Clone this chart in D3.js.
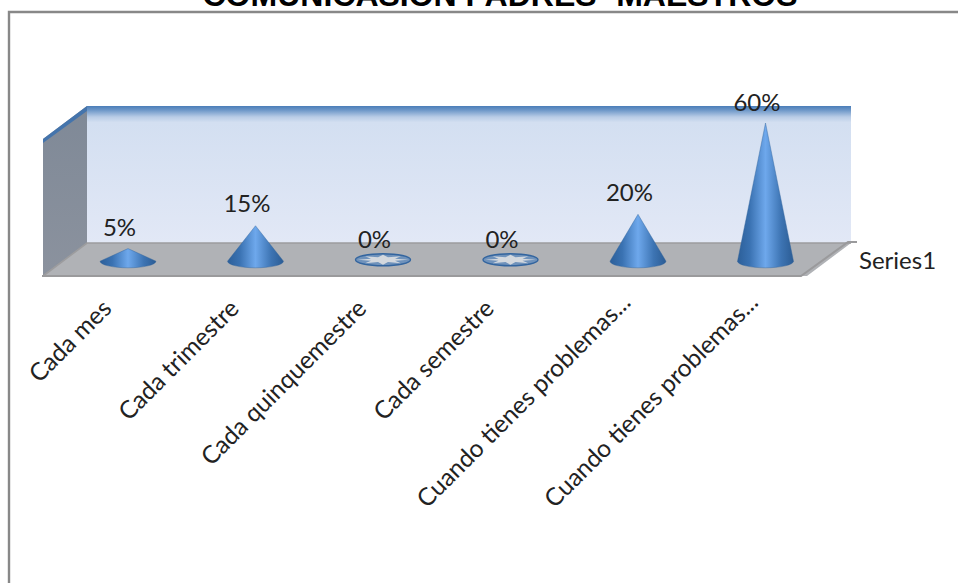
<!DOCTYPE html>
<html><head><meta charset="utf-8">
<script src="https://cdn.jsdelivr.net/npm/d3@7/dist/d3.min.js"></script>
<style>html,body{margin:0;padding:0;background:#fff;overflow:hidden}svg{display:block}</style>
</head><body><div id="c"></div>
<script>
const titleText = "COMUNICASION PADRES- MAESTROS";
const categories = ["Cada mes","Cada trimestre","Cada quinquemestre","Cada semestre","Cuando tienes problemas...","Cuando tienes problemas... "];
const values = [5,15,0,0,20,60];
const seriesName = "Series1";

const W=958,H=583;
const svg=d3.select("#c").append("svg").attr("width",W).attr("height",H);
const defs=svg.append("defs");
function lin(id,stops,x2,y2){const g=defs.append("linearGradient").attr("id",id).attr("x1",0).attr("y1",0).attr("x2",x2).attr("y2",y2);
 stops.forEach(s=>g.append("stop").attr("offset",s[0]).attr("stop-color",s[1]));}
lin("wall",[[0,"#4a7db8"],[0.03,"#6d97c8"],[0.08,"#b9cce6"],[0.12,"#d3dff1"],[1,"#e2e8f6"]],0,1);
lin("side",[[0,"#7f8997"],[1,"#8b929e"]],0,1);
lin("cone",[[0,"#2c5f99"],[0.22,"#3a72b2"],[0.5,"#6ea8ec"],[0.78,"#3d74b3"],[1,"#2b5c94"]],1,0);

const x=d3.scaleBand().domain(d3.range(categories.length)).range([64.25,829.25]);
const y=d3.scaleLinear().domain([0,60]).range([260,123]);
const wall={l:87,r:851,t:106,b:243}, dx=44, dy=33;

// frame
svg.append("path").attr("d",`M${W+2},12H9V${H+2}`).attr("fill","none").attr("stroke","#888").attr("stroke-width",2.4);
// title
svg.append("text").attr("x",500).attr("y",6).attr("text-anchor","middle")
 .attr("font-family","Liberation Sans").attr("font-weight","bold").attr("font-size",32).attr("fill","#000").text(titleText);

// walls and floor
svg.append("rect").attr("x",wall.l).attr("y",wall.t).attr("width",wall.r-wall.l).attr("height",wall.b-wall.t).attr("fill","url(#wall)");
svg.append("path").attr("d",`M${wall.l},${wall.t}L${wall.l-dx},${wall.t+dy}V${wall.b+dy}L${wall.l},${wall.b}Z`).attr("fill","url(#side)");
svg.append("path").attr("d",`M${wall.l},${wall.t}L${wall.l-dx},${wall.t+dy}v4L${wall.l},${wall.t+5}Z`).attr("fill","#4474ac");
svg.append("path").attr("d",`M${wall.l},${wall.b}H${wall.r}L${wall.r-dx},${wall.b+dy}H${wall.l-dx}Z`).attr("fill","#b0b2b6");
svg.append("path").attr("d",`M${wall.l-dx},${wall.b+dy}L${wall.l},${wall.b}H${wall.r}`).attr("fill","none").attr("stroke","#9c9c9e").attr("stroke-width",1.6);
svg.append("path").attr("d",`M${wall.l-dx-1},${wall.b+dy}H${wall.r-dx-6}L${wall.r-3},${wall.b-1}H${wall.r+6}`).attr("fill","none").attr("stroke","#9a9a9c").attr("stroke-width",2);

// cones
const rx=28, ry=6.6, baseDy=1.2;
const cx=i=>x(i)+x.bandwidth()/2;
const g=svg.append("g");
values.forEach((v,i)=>{
  const c=cx(i), by=y(0)+baseDy;
  if(v>0){
    g.append("path").attr("d",`M${c-rx},${by}L${c},${y(v)}L${c+rx},${by}A${rx},${ry} 0 0 1 ${c-rx},${by}Z`)
     .attr("fill","url(#cone)").attr("stroke","#2f6299").attr("stroke-width",.4);
  } else {
    const e=g.append("g");
    e.append("ellipse").attr("cx",c).attr("cy",by-1.5).attr("rx",rx-0.5).attr("ry",ry-.6).attr("fill","#6f92bb").attr("stroke","#33659f").attr("stroke-width",1.4);
    const star=d3.range(16).map(k=>{const a=k/16*2*Math.PI, r=k%2?0.5:0.97;return [c+Math.cos(a)*(rx-2)*r,by-1.5+Math.sin(a)*(ry-1.4)*r];});
    e.append("path").attr("d",d3.line().curve(d3.curveLinearClosed)(star)).attr("fill","#d3d8de");
  }
});

// data labels
const labelOffset=[-13,-14,-12,-12,-13,-12];
svg.append("g").selectAll("text").data(values).join("text")
 .attr("x",(d,i)=>cx(i)-8.5).attr("y",(d,i)=>y(d)+labelOffset[i]).attr("text-anchor","middle")
 .attr("font-family","Lato").attr("font-size",24).attr("fill","#222").text(d=>d+"%");

// category labels
const labelShift=[[0,0],[0,0],[0,0],[0,0],[9,-6],[9,-6]];
svg.append("g").selectAll("text").data(categories).join("text")
 .attr("transform",(d,i)=>`translate(${cx(i)-15+labelShift[i][0]},${310+labelShift[i][1]}) rotate(-45)`).attr("text-anchor","end")
 .attr("font-family","Lato").attr("font-size",24.5).attr("fill","#222").text(d=>d.trim());

// legend
svg.append("text").attr("x",859).attr("y",269).attr("font-family","Lato").attr("font-size",24).attr("fill","#222").text(seriesName);
</script></body></html>
